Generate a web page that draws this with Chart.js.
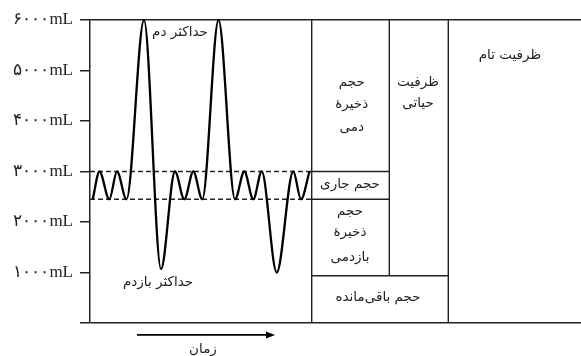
<!DOCTYPE html>
<html>
<head>
<meta charset="utf-8">
<script src="https://cdn.jsdelivr.net/npm/chart.js@4.4.1/dist/chart.umd.min.js"></script>
<style>
html,body{margin:0;padding:0;background:#fff;}
#wrap{width:581px;height:356px;position:relative;}
</style>
</head>
<body>
<div id="wrap"><canvas id="c" width="581" height="356"></canvas></div>
<script>
// ---- data ----
const breathTime   = [2.7, 9.5, 19.3, 27, 36.5, 54, 71, 85, 94.3, 103.3, 112.3, 128.5, 145, 154.3, 163.3, 171.7, 186.7, 203.3, 211, 219.5];
const breathVolume = [2450, 3000, 2450, 3000, 2450, 6000, 1070, 3000, 2450, 3000, 2450, 6000, 2450, 3000, 2450, 3000, 1000, 3000, 2450, 3000];
const tidalTop = 3000;      // end of normal inspiration
const tidalBottom = 2450;   // end of normal expiration
const residual = 935;       // residual volume
const totalCapacity = 6000;
const columnEdges = [221.7, 299.3, 358.3];
const timeMax = 491;
const yTicks = [0, 1000, 2000, 3000, 4000, 5000, 6000];
const yTickLabels = ['', '۱۰۰۰mL', '۲۰۰۰mL', '۳۰۰۰mL', '۴۰۰۰mL', '۵۰۰۰mL', '۶۰۰۰mL'];

const labels = [
  {t: 'حداکثر دم', x: 90, y: 5743},
  {t: 'حداکثر بازدم', x: 68, y: 797},
  {t: 'حجم', x: 261.7, y: 4753},
  {t: 'ذخیرهٔ', x: 261.7, y: 4317},
  {t: 'دمی', x: 261.7, y: 3863},
  {t: 'ظرفیت', x: 328, y: 4772},
  {t: 'حیاتی', x: 328, y: 4338},
  {t: 'ظرفیت تام', x: 420, y: 5288},
  {t: 'حجم جاری', x: 260, y: 2736},
  {t: 'حجم', x: 260, y: 2208},
  {t: 'ذخیرهٔ', x: 260, y: 1786},
  {t: 'بازدمی', x: 260, y: 1292},
  {t: 'حجم باقی‌مانده', x: 288, y: 500},
  {t: 'زمان', x: 113, y: -528}
];
const arrow = {x1: 47, x2: 185, y: -237};

// ---- datasets ----
const ink = '#222';
function seg(points, opts) {
  return Object.assign({
    type: 'line', data: points, borderColor: ink, borderWidth: 1.4,
    pointRadius: 0, tension: 0, fill: false, clip: false
  }, opts || {});
}
const datasets = [
  seg(breathTime.map((t, i) => ({x: t, y: breathVolume[i]})),
      {borderColor: '#000', borderWidth: 2.3, cubicInterpolationMode: 'monotone'}),
  seg([{x: 0, y: tidalTop}, {x: columnEdges[0], y: tidalTop}], {borderDash: [5, 3]}),
  seg([{x: 0, y: tidalBottom}, {x: columnEdges[0], y: tidalBottom}], {borderDash: [5, 3]}),
  seg([{x: columnEdges[0], y: totalCapacity}, {x: columnEdges[0], y: 0}]),
  seg([{x: columnEdges[1], y: totalCapacity}, {x: columnEdges[1], y: residual}]),
  seg([{x: columnEdges[2], y: totalCapacity}, {x: columnEdges[2], y: 0}]),
  seg([{x: columnEdges[0], y: tidalTop}, {x: columnEdges[1], y: tidalTop}]),
  seg([{x: columnEdges[0], y: tidalBottom}, {x: columnEdges[1], y: tidalBottom}]),
  seg([{x: columnEdges[0], y: residual}, {x: columnEdges[2], y: residual}])
];

const textPlugin = {
  id: 'texts',
  afterDatasetsDraw(chart) {
    const {ctx, scales: {x, y}} = chart;
    ctx.save();
    ctx.fillStyle = '#222';
    ctx.font = '13.5px "DejaVu Sans", "Noto Sans", sans-serif';
    ctx.textAlign = 'center';
    ctx.textBaseline = 'middle';
    ctx.direction = 'rtl';
    labels.forEach(l => ctx.fillText(l.t, x.getPixelForValue(l.x), y.getPixelForValue(l.y)));
    // time arrow
    const ax1 = x.getPixelForValue(arrow.x1), ax2 = x.getPixelForValue(arrow.x2), ay = y.getPixelForValue(arrow.y);
    ctx.strokeStyle = '#000';
    ctx.lineWidth = 1.8;
    ctx.beginPath(); ctx.moveTo(ax1, ay); ctx.lineTo(ax2 - 6, ay); ctx.stroke();
    ctx.fillStyle = '#000';
    ctx.beginPath(); ctx.moveTo(ax2, ay); ctx.lineTo(ax2 - 9, ay - 3.5); ctx.lineTo(ax2 - 9, ay + 3.5); ctx.closePath(); ctx.fill();
    ctx.restore();
  }
};

new Chart(document.getElementById('c'), {
  type: 'line',
  data: {datasets},
  options: {
    responsive: false,
    animation: false,
    events: [],
    layout: {padding: {top: 20, bottom: 33, left: 0, right: 0}},
    plugins: {legend: {display: false}, tooltip: {enabled: false}},
    scales: {
      x: {type: 'linear', min: 0, max: timeMax, display: false},
      y: {
        type: 'linear', min: 0, max: 6000,
        afterFit(s) { s.width = 90; },
        afterBuildTicks(s) { s.ticks = yTicks.map(v => ({value: v})); },
        ticks: {
          padding: 7,
          color: '#222',
          font: {family: '"Liberation Serif", "DejaVu Serif", serif', size: 17},
          callback: (v) => yTickLabels[yTicks.indexOf(v)]
        },
        grid: {
          drawOnChartArea: true,
          tickLength: 10,
          lineWidth: 1.5,
          color: (c) => (c.tick && (c.tick.value === 0 || c.tick.value === 6000)) ? ink : 'rgba(0,0,0,0)',
          tickColor: ink
        },
        border: {display: true, color: ink, width: 1.5}
      }
    }
  },
  plugins: [textPlugin]
});
</script>
</body>
</html>
